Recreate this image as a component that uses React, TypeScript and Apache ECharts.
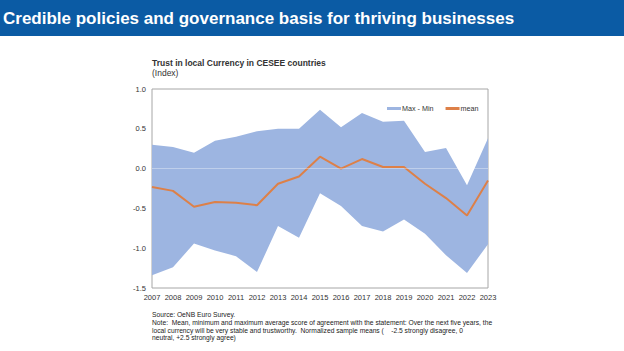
import React, { useEffect, useRef } from "react";
import * as echarts from "echarts";

const years = ["2007","2008","2009","2010","2011","2012","2013","2014","2015","2016","2017","2018","2019","2020","2021","2022","2023"];
const maxVals = [0.30, 0.27, 0.20, 0.35, 0.40, 0.47, 0.50, 0.50, 0.74, 0.52, 0.70, 0.59, 0.60, 0.21, 0.26, -0.21, 0.38];
const meanVals = [-0.23, -0.28, -0.48, -0.42, -0.43, -0.46, -0.19, -0.10, 0.15, 0.00, 0.12, 0.02, 0.02, -0.19, -0.37, -0.59, -0.15];
const minVals = [-1.34, -1.24, -0.94, -1.03, -1.10, -1.30, -0.72, -0.87, -0.31, -0.47, -0.72, -0.79, -0.64, -0.82, -1.09, -1.31, -0.95];

const headerTitle = "Credible policies and governance basis for thriving businesses";
const chartTitle = "Trust in local Currency in CESEE countries";
const chartUnit = "(Index)";
const noteLines = [
  "Source: OeNB Euro Survey.",
  "Note:  Mean, minimum and maximum average score of agreement with the statement: Over the next five years, the",
  "local currency will be very stable and trustworthy.  Normalized sample means (    -2.5 strongly disagree, 0",
  "neutral, +2.5 strongly agree)",
];

const FONT = "Liberation Sans, Arial, sans-serif";

export default function App() {
  const ref = useRef<HTMLDivElement>(null);
  useEffect(() => {
    if (!ref.current) return;
    const chart = echarts.init(ref.current, null, { renderer: "svg" });
    const band = maxVals.map((v, i) => +(v - minVals[i]).toFixed(3));
    chart.setOption({
      animation: false,
      backgroundColor: "#ffffff",
      textStyle: { fontFamily: FONT },
      grid: { left: 152, right: 136, top: 89, bottom: 63, show: true, borderColor: "#a6a6a6", borderWidth: 1, backgroundColor: "transparent" },
      legend: {
        data: ["Max - Min", "mean"],
        left: 382,
        top: 100,
        itemWidth: 14,
        itemHeight: 3,
        itemGap: 12,
        icon: "rect",
        textStyle: { fontSize: 7.2, color: "#333", padding: [0, 0, 0, -4] },
      },
      xAxis: {
        type: "category",
        data: years,
        boundaryGap: false,
        axisLine: { show: false },
        axisTick: { show: false },
        axisLabel: { fontSize: 7.5, color: "#333", margin: 5, interval: 0 },
        splitLine: { show: false },
      },
      yAxis: {
        type: "value",
        min: -1.5,
        max: 1,
        interval: 0.5,
        axisLine: { show: false },
        axisTick: { show: false },
        splitLine: { show: false },
        axisLabel: { fontSize: 7.5, color: "#333", margin: 6, formatter: (v: number) => v.toFixed(1) },
      },
      series: [
        {
          name: "min",
          type: "line",
          data: minVals,
          stack: "band",
          stackStrategy: "all",
          symbol: "none",
          lineStyle: { width: 0, opacity: 0 },
          silent: true,
          z: 1,
        },
        {
          name: "Max - Min",
          type: "line",
          data: band,
          stack: "band",
          stackStrategy: "all",
          symbol: "none",
          color: "#9db5e1",
          lineStyle: { width: 0, opacity: 0 },
          areaStyle: { color: "#9db5e1", opacity: 1 },
          silent: true,
          z: 2,
          markLine: {
            silent: true,
            symbol: "none",
            label: { show: false },
            lineStyle: { color: "rgba(255,255,255,0.35)", type: "solid", width: 1 },
            data: [{ yAxis: 0 }],
          },
        },
        {
          name: "mean",
          type: "line",
          data: meanVals,
          symbol: "none",
          color: "#dd8048",
          lineStyle: { color: "#dd8048", width: 2 },
          z: 3,
        },
      ],
      graphic: [
        { type: "rect", shape: { x: 0, y: 0, width: 624, height: 36 }, style: { fill: "#0b5ba4" }, silent: true },
        {
          type: "text",
          x: 3,
          y: 18,
          style: { text: headerTitle, fill: "#ffffff", font: `bold 17px ${FONT}`, textVerticalAlign: "middle" },
        },
        {
          type: "text",
          x: 152,
          y: 63,
          style: { text: chartTitle, fill: "#333", font: `bold 8.5px ${FONT}`, textVerticalAlign: "middle" },
        },
        {
          type: "text",
          x: 152,
          y: 73,
          style: { text: chartUnit, fill: "#333", font: `8.5px ${FONT}`, textVerticalAlign: "middle" },
        },
        ...noteLines.map((t, i) => ({
          type: "text",
          x: 152,
          y: 314.5 + i * 7.8,
          style: { text: t, fill: "#222", font: `6.7px ${FONT}`, textVerticalAlign: "middle" },
        })),
      ],
    });
    return () => chart.dispose();
  }, []);
  return <div ref={ref} style={{ position: "absolute", left: 0, top: 0, width: 624, height: 351 }} />;
}
